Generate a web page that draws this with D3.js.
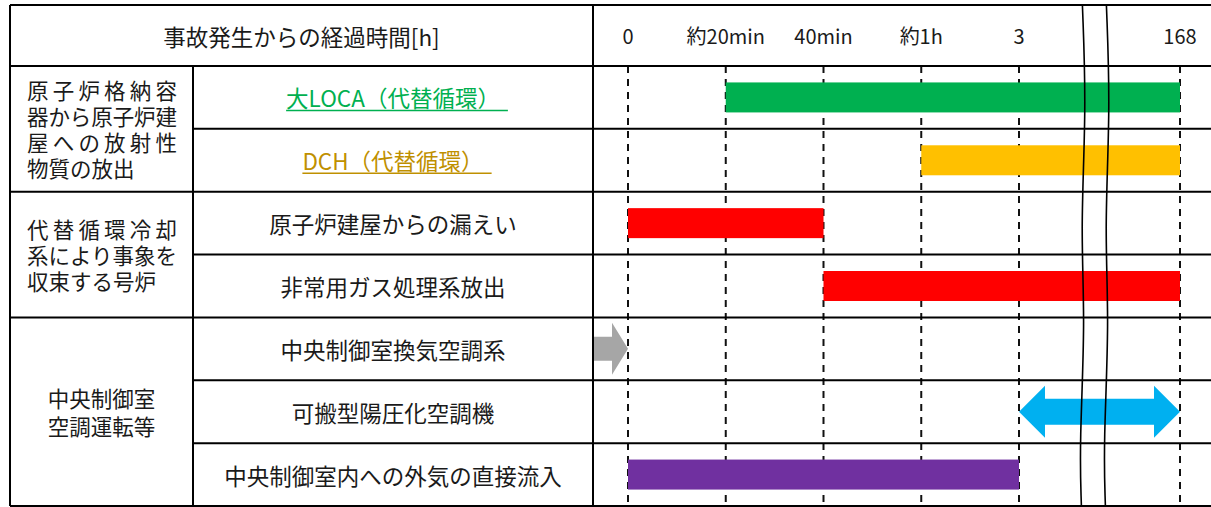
<!DOCTYPE html>
<html>
<head>
<meta charset="utf-8">
<script src="https://cdn.jsdelivr.net/npm/d3@7"></script>
<style>
  html, body { margin: 0; padding: 0; background: #fff; }
  svg text { font-family: "Noto Sans CJK JP", "Noto Sans", sans-serif; fill: #1a1a1a; }
</style>
</head>
<body>
<svg id="chart"></svg>
<script>
// time axis labels (one per dashed grid line)
var timeTicks = ["0", "約20min", "40min", "約1h", "3", "168"];
var headerTitle = "事故発生からの経過時間[h]";

// left group column: text lines and how many rows each covers
var groupLines = [
  ["原子炉格納容", "器から原子炉建", "屋への放射性", "物質の放出"],
  ["代替循環冷却", "系により事象を", "収束する号炉"],
  ["中央制御室", "空調運転等"]
];
var groupSpans = [2, 2, 3];
var groupJustify = [true, true, false];

// item rows
var items = ["大LOCA（代替循環）", "DCH（代替循環）", "原子炉建屋からの漏えい", "非常用ガス処理系放出",
             "中央制御室換気空調系", "可搬型陽圧化空調機", "中央制御室内への外気の直接流入"];
var itemColors = ["#00b050", "#bf9000", null, null, null, null, null];
var itemUnderline = [true, true, false, false, false, false, false];

// marks, as tick indices on the time axis
var markStart = [1, 3, 0, 2, null, 4, 0];
var markEnd   = [5, 5, 2, 5, 0, 5, 4];
var markType  = ["bar", "bar", "bar", "bar", "arrow", "double", "bar"];
var markColor = ["#00b050", "#ffc000", "#ff0000", "#ff0000", "#a6a6a6", "#00b0f0", "#7030a0"];

// axis break between "3" and "168"
var breakAt = 4.4;

var W = 1211, H = 507;
var xLeft = 10, colGroup = 193, colItem = 593, yTop = 5, headBottom = 66, yBottom = 506;

var svg = d3.select("#chart").attr("width", W).attr("height", H);

var xScale = d3.scaleLinear()
  .domain([0, 4, 5])
  .range([628, 1019, 1180]);

var yScale = d3.scaleBand()
  .domain(items)
  .range([headBottom, yBottom])
  .paddingInner(0);

var rowH = yScale.bandwidth();
var barH = 30;

// dashed grid lines
svg.append("g").selectAll("line")
  .data(timeTicks)
  .enter().append("line")
    .attr("x1", function(d, i) { return xScale(i); })
    .attr("x2", function(d, i) { return xScale(i); })
    .attr("y1", headBottom)
    .attr("y2", yBottom)
    .attr("stroke", "#111")
    .attr("stroke-width", 2)
    .attr("stroke-dasharray", "7,6");

// bars and arrows
var marks = svg.append("g");
items.forEach(function(item, i) {
  var cy = yScale(item) + rowH / 2;
  if (markType[i] == "bar") {
    marks.append("rect")
      .attr("x", xScale(markStart[i]))
      .attr("y", cy - barH / 2)
      .attr("width", xScale(markEnd[i]) - xScale(markStart[i]))
      .attr("height", barH)
      .attr("fill", markColor[i]);
  } else if (markType[i] == "arrow") {
    var x1 = colItem + 1, x2 = xScale(markEnd[i]), hl = 16, sh = 12, hh = 26;
    marks.append("path")
      .attr("d", "M" + x1 + "," + (cy - sh) + "L" + (x2 - hl) + "," + (cy - sh) + "L" + (x2 - hl) + "," + (cy - hh) +
        "L" + x2 + "," + cy + "L" + (x2 - hl) + "," + (cy + hh) + "L" + (x2 - hl) + "," + (cy + sh) +
        "L" + x1 + "," + (cy + sh) + "Z")
      .attr("fill", markColor[i]);
  } else if (markType[i] == "double") {
    var a = xScale(markStart[i]), b = xScale(markEnd[i]), hl2 = 26, sh2 = 13, hh2 = 26;
    marks.append("path")
      .attr("d", "M" + a + "," + cy + "L" + (a + hl2) + "," + (cy - hh2) + "L" + (a + hl2) + "," + (cy - sh2) +
        "L" + (b - hl2) + "," + (cy - sh2) + "L" + (b - hl2) + "," + (cy - hh2) + "L" + b + "," + cy +
        "L" + (b - hl2) + "," + (cy + hh2) + "L" + (b - hl2) + "," + (cy + sh2) +
        "L" + (a + hl2) + "," + (cy + sh2) + "L" + (a + hl2) + "," + (cy + hh2) + "Z")
      .attr("fill", markColor[i]);
  }
});

// table lines
var grid = svg.append("g").attr("stroke", "#000").attr("stroke-width", 2).attr("fill", "none");
grid.append("line").attr("x1", xLeft).attr("x2", W).attr("y1", yTop).attr("y2", yTop);
grid.append("line").attr("x1", xLeft).attr("x2", W).attr("y1", headBottom).attr("y2", headBottom);
grid.append("line").attr("x1", xLeft).attr("x2", W).attr("y1", yBottom).attr("y2", yBottom);
grid.append("line").attr("x1", xLeft).attr("x2", xLeft).attr("y1", yTop).attr("y2", yBottom);
grid.append("line").attr("x1", colGroup).attr("x2", colGroup).attr("y1", headBottom).attr("y2", yBottom);
grid.append("line").attr("x1", colItem).attr("x2", colItem).attr("y1", yTop).attr("y2", yBottom);

// row lines: full width at group boundaries, item width otherwise
var groupEnds = [];
var acc = 0;
groupSpans.forEach(function(s) { acc += s; groupEnds.push(acc); });
items.forEach(function(item, i) {
  if (i == 0) return;
  var y = yScale(item);
  var full = groupEnds.indexOf(i) >= 0;
  grid.append("line")
    .attr("x1", full ? xLeft : colGroup).attr("x2", W)
    .attr("y1", y).attr("y2", y);
});

// header texts
svg.append("text")
  .attr("x", (xLeft + colItem) / 2)
  .attr("y", (yTop + headBottom) / 2)
  .attr("text-anchor", "middle")
  .attr("dominant-baseline", "central")
  .style("font-size", "22.5px")
  .text(headerTitle);

svg.append("g").selectAll("text")
  .data(timeTicks)
  .enter().append("text")
    .attr("x", function(d, i) { return xScale(i); })
    .attr("y", (yTop + headBottom) / 2)
    .attr("text-anchor", "middle")
    .attr("dominant-baseline", "central")
    .style("font-size", "20px")
    .text(function(d) { return d; });

// item labels
items.forEach(function(item, i) {
  var cx = (colGroup + colItem) / 2, cy = yScale(item) + rowH / 2;
  var t = svg.append("text")
    .attr("x", cx)
    .attr("y", cy)
    .attr("text-anchor", "middle")
    .attr("dominant-baseline", "central")
    .style("font-size", "22.5px")
    .text(item);
  if (itemColors[i]) t.style("fill", itemColors[i]);
  if (itemUnderline[i]) {
    var len = t.node().getComputedTextLength();
    svg.append("line")
      .attr("x1", cx - len / 2).attr("x2", cx + len / 2 + 8)
      .attr("y1", cy + 13).attr("y2", cy + 13)
      .attr("stroke", itemColors[i])
      .attr("stroke-width", 1.5);
  }
});

// group labels
var rowStart = 0;
groupLines.forEach(function(lines, g) {
  var y0 = yScale(items[rowStart]);
  var y1 = yScale(items[rowStart + groupSpans[g] - 1]) + rowH;
  var mid = (y0 + y1) / 2;
  var lh = groupJustify[g] ? 26 : 28;
  lines.forEach(function(line, k) {
    var ly = mid + (k - (lines.length - 1) / 2) * lh;
    var t = svg.append("text")
      .attr("y", ly)
      .attr("dominant-baseline", "central")
      .style("font-size", "21.5px")
      .text(line);
    if (groupJustify[g]) {
      t.attr("x", 27);
      if (k < lines.length - 1) t.attr("textLength", 150).attr("lengthAdjust", "spacing");
    } else {
      t.attr("x", (xLeft + colGroup) / 2).attr("text-anchor", "middle");
    }
  });
  rowStart += groupSpans[g];
});

// axis break: two wavy lines
var wave = [[yTop, 0], [110, 4], [230, -2], [320, 3], [445, -3], [yBottom, -1]];
var waveLine = d3.line()
  .x(function(d) { return d[1]; })
  .y(function(d) { return d[0]; })
  .curve(d3.curveBasis);
[0, 24].forEach(function(off) {
  svg.append("path")
    .attr("transform", "translate(" + (xScale(breakAt) - 1 + off) + ",0)")
    .attr("d", waveLine(wave))
    .attr("fill", "none")
    .attr("stroke", "#000")
    .attr("stroke-width", 1.6);
});
</script>
</body>
</html>
